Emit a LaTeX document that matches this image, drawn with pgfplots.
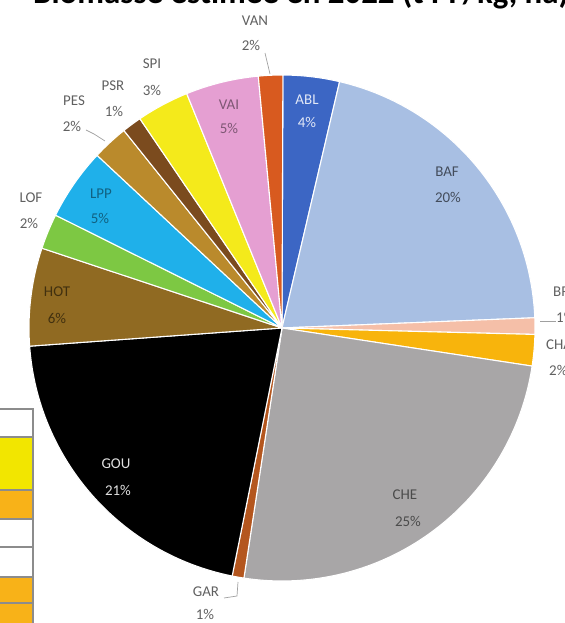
\documentclass[border=0pt]{standalone}
\usepackage{fontspec}
\setmainfont{Carlito}
\usepackage{pgfplots}
\usepackage{pgfplotstable}
\pgfplotsset{compat=1.18}

\definecolor{c0}{HTML}{3C66C4}
\definecolor{c1}{HTML}{A8BFE3}
\definecolor{c2}{HTML}{F5BFA8}
\definecolor{c3}{HTML}{F8B40C}
\definecolor{c4}{HTML}{A8A6A7}
\definecolor{c5}{HTML}{B4561E}
\definecolor{c6}{HTML}{000000}
\definecolor{c7}{HTML}{906A22}
\definecolor{c8}{HTML}{7DC843}
\definecolor{c9}{HTML}{1FB0EA}
\definecolor{c10}{HTML}{BA8A2C}
\definecolor{c11}{HTML}{7B4B1E}
\definecolor{c12}{HTML}{F4EA1B}
\definecolor{c13}{HTML}{E59FD2}
\definecolor{c14}{HTML}{D85A1F}
\definecolor{labgray}{HTML}{606060}
\definecolor{leader}{HTML}{A0A0A0}
\definecolor{tabborder}{HTML}{8C8C8C}
\definecolor{tabyellow}{HTML}{F2E600}
\definecolor{taborange}{HTML}{F8B218}

\pgfplotstableread{
name val
ABL 3.6
BAF 20.7
BRE 1.05
CHA 2.0
CHE 25.0
GAR 0.75
GOU 20.7
HOT 6.25
LOF 2.25
LPP 4.6
PES 2.3
PSR 1.25
SPI 3.35
VAI 4.65
VAN 1.55
}\piedata

\tikzset{lab/.style={font=\fontsize{15}{17}\selectfont}}

\begin{document}
\begin{tikzpicture}
\begin{axis}[
  width=565bp, height=623bp, scale only axis,
  xmin=0, xmax=565, ymin=0, ymax=623,
  axis lines=none, clip=false,
]
\pgfmathsetmacro{\cum}{0}
\pgfplotsforeachungrouped \i in {0,...,14}{%
  \pgfplotstablegetelem{\i}{val}\of\piedata
  \pgfmathsetmacro{\sa}{89.8-3.6*\cum}%
  \pgfmathsetmacro{\ea}{\sa-3.6*\pgfplotsretval}%
  \edef\temp{\noexpand\fill[fill=c\i, draw=white, line width=1.1pt, line join=round] (axis cs:282,295) -- ++(\sa:253bp) arc[start angle=\sa, end angle=\ea, radius=253bp] -- cycle;}%
  \temp
  \pgfmathsetmacro{\cum}{\cum+\pgfplotsretval}%
}

% partial table at left
\fill[tabyellow] (axis cs:0,186) rectangle (axis cs:33,133);
\fill[taborange] (axis cs:0,133) rectangle (axis cs:33,104);
\fill[taborange] (axis cs:0,46) rectangle (axis cs:33,0);
\draw[tabborder, line width=1.3pt] (axis cs:0,214) -- (axis cs:33,214) -- (axis cs:33,0);
\draw[tabborder, line width=1.3pt] (axis cs:0,186) -- (axis cs:33,186);
\draw[tabborder, line width=1.3pt] (axis cs:0,133) -- (axis cs:33,133);
\draw[tabborder, line width=1.3pt] (axis cs:0,104) -- (axis cs:33,104);
\draw[tabborder, line width=1.3pt] (axis cs:0,76) -- (axis cs:33,76);
\draw[tabborder, line width=1.3pt] (axis cs:0,46) -- (axis cs:33,46);
\draw[tabborder, line width=1.3pt] (axis cs:0,20) -- (axis cs:33,20);

% title (cut at top)
\node[anchor=base west, inner sep=0pt, font=\bfseries\fontsize{33}{36}\selectfont] at (axis cs:33,619) {Biomasse estimée en 2022 (t PF/kg, ha)};

% leader lines
\draw[leader, line width=0.7pt] (axis cs:265,570) -- (axis cs:270,549);
\draw[leader, line width=0.7pt] (axis cs:86,493) -- (axis cs:94,489) -- (axis cs:105,482);
\draw[leader, line width=0.7pt] (axis cs:224,25) -- (axis cs:237,27) -- (axis cs:238,41);
\draw[leader, line width=0.7pt] (axis cs:540,302) -- (axis cs:556,302);

% outside labels
\node[lab, labgray] at (axis cs:255,602) {VAN};
\node[lab, labgray] at (axis cs:251,578) {2\%};
\node[lab, labgray] at (axis cs:152,559) {SPI};
\node[lab, labgray] at (axis cs:152,533) {3\%};
\node[lab, labgray] at (axis cs:113,537) {PSR};
\node[lab, labgray] at (axis cs:114,512) {1\%};
\node[lab, labgray] at (axis cs:74,522) {PES};
\node[lab, labgray] at (axis cs:72,497) {2\%};
\node[lab, labgray] at (axis cs:31,425) {LOF};
\node[lab, labgray] at (axis cs:29,400) {2\%};
\node[lab, labgray] at (axis cs:206,31) {GAR};
\node[lab, labgray] at (axis cs:205,9) {1\%};
\node[lab, labgray, anchor=west, inner sep=0pt] at (axis cs:553,331) {BRE};
\node[lab, labgray, anchor=west, inner sep=0pt] at (axis cs:556,306) {1\%};
\node[lab, labgray, anchor=west, inner sep=0pt] at (axis cs:546,278) {CHA};
\node[lab, labgray, anchor=west, inner sep=0pt] at (axis cs:549,253) {2\%};

% inside labels
\node[lab, white!85!c0] at (axis cs:307,523) {ABL};
\node[lab, white!85!c0] at (axis cs:307,501) {4\%};
\node[lab, black!45!c13] at (axis cs:229,518) {VAI};
\node[lab, black!45!c13] at (axis cs:229,495) {5\%};
\node[lab, black!45!c9] at (axis cs:101,429) {LPP};
\node[lab, black!45!c9] at (axis cs:100,405) {5\%};
\node[lab, black!55!c7] at (axis cs:57,331) {HOT};
\node[lab, black!55!c7] at (axis cs:57,305) {6\%};
\node[lab, black!60!c1] at (axis cs:447,451) {BAF};
\node[lab, black!60!c1] at (axis cs:448,426) {20\%};
\node[lab, white!88!black] at (axis cs:116,159) {GOU};
\node[lab, white!88!black] at (axis cs:118,133) {21\%};
\node[lab, black!55!c4] at (axis cs:405,128) {CHE};
\node[lab, black!55!c4] at (axis cs:408,102) {25\%};
\end{axis}
\pgfresetboundingbox
\path[use as bounding box] (0,0) rectangle (565bp,623bp);
\end{tikzpicture}
\end{document}
